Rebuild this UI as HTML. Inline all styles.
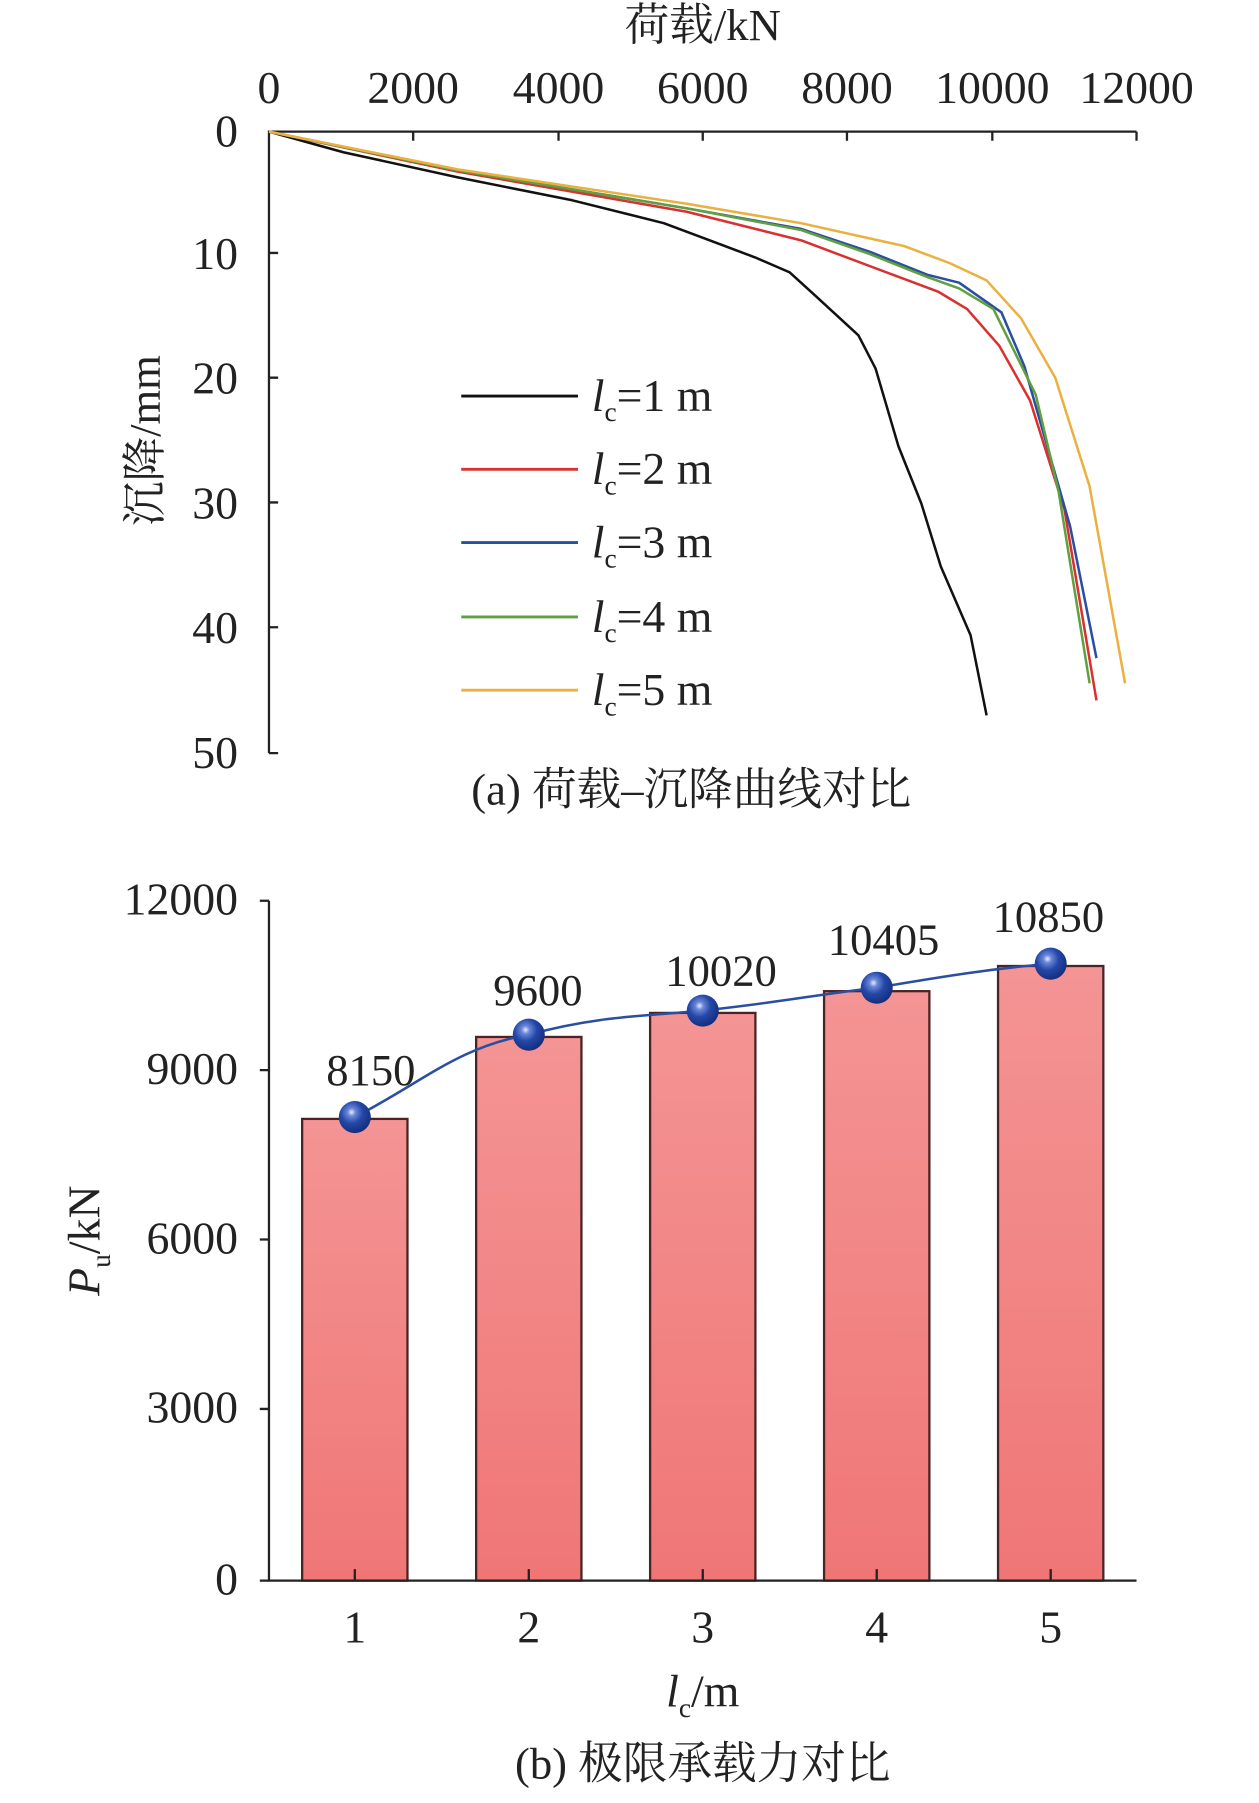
<!DOCTYPE html>
<html><head><meta charset="utf-8"><style>html,body{margin:0;padding:0;background:#fff}svg{display:block}</style></head><body>
<svg width="1259" height="1803" viewBox="0 0 1100 1575.3" xmlns="http://www.w3.org/2000/svg" font-family="'Liberation Serif','Noto Serif CJK SC',serif" fill="#222">
<defs>
<linearGradient id="bg" x1="0" y1="0" x2="0" y2="1"><stop offset="0" stop-color="#f49494"/><stop offset="1" stop-color="#f07676"/></linearGradient>
<radialGradient id="ball" cx="0.4" cy="0.35" r="0.7"><stop offset="0" stop-color="#e8ecff"/><stop offset="0.18" stop-color="#6a86d8"/><stop offset="0.5" stop-color="#2448a8"/><stop offset="1" stop-color="#132a78"/></radialGradient>
</defs>
<!-- Top chart -->
<text x="614" y="35" font-size="39" text-anchor="middle">荷载/kN</text>
<g font-size="40" text-anchor="middle">
<text x="235" y="90">0</text><text x="361" y="90">2000</text><text x="488" y="90">4000</text><text x="614" y="90">6000</text><text x="740" y="90">8000</text><text x="867" y="90">10000</text><text x="993" y="90">12000</text>
</g>
<g font-size="40" text-anchor="end">
<text x="208" y="128">0</text><text x="208" y="235">10</text><text x="208" y="344">20</text><text x="208" y="453">30</text><text x="208" y="562">40</text><text x="208" y="671">50</text>
</g>
<text transform="translate(140,385) rotate(-90)" font-size="39" text-anchor="middle">沉降/mm</text>
<g stroke="#222" stroke-width="2" fill="none">
<path d="M235,658 V115 H993"/>
<path d="M361,115v8M488,115v8M614,115v8M740,115v8M867,115v8M993,115v8M235,221h8M235,330h8M235,439h8M235,548h8M235,658h8"/>
</g>
<g fill="none" stroke-width="2.2" stroke-linejoin="round">
<polyline stroke="#111" points="235,115 300,133 400,155 500,175 580,195 620,210 660,225 690,238 712,258 750,293 765,322 785,390 805,440 822,495 848,555 862,625"/>
<polyline stroke="#d93030" points="235,115 400,150 600,185 700,210 780,240 820,255 845,270 873,302 900,350 930,445 958,612"/>
<polyline stroke="#2a4ea0" points="235,115 400,149 600,182 700,200 760,220 810,240 838,247 875,273 895,320 915,390 935,460 958,575"/>
<polyline stroke="#60a040" points="235,115 400,149 600,182 700,201 760,222 810,242 838,252 868,270 905,345 925,430 952,597"/>
<polyline stroke="#eab040" points="235,115 400,148 600,178 700,195 790,215 830,230 862,245 892,278 922,330 952,425 983,597"/>
</g>
<g stroke-width="2.5">
<line x1="403" y1="346" x2="505" y2="346" stroke="#111"/>
<line x1="403" y1="410" x2="505" y2="410" stroke="#d93030"/>
<line x1="403" y1="474" x2="505" y2="474" stroke="#2a4ea0"/>
<line x1="403" y1="539" x2="505" y2="539" stroke="#60a040"/>
<line x1="403" y1="603" x2="505" y2="603" stroke="#eab040"/>
</g>
<g font-size="40">
<text x="517" y="359"><tspan font-style="italic">l</tspan><tspan font-size="24" dy="9">c</tspan><tspan dy="-9">=1 m</tspan></text>
<text x="517" y="423"><tspan font-style="italic">l</tspan><tspan font-size="24" dy="9">c</tspan><tspan dy="-9">=2 m</tspan></text>
<text x="517" y="487"><tspan font-style="italic">l</tspan><tspan font-size="24" dy="9">c</tspan><tspan dy="-9">=3 m</tspan></text>
<text x="517" y="552"><tspan font-style="italic">l</tspan><tspan font-size="24" dy="9">c</tspan><tspan dy="-9">=4 m</tspan></text>
<text x="517" y="616"><tspan font-style="italic">l</tspan><tspan font-size="24" dy="9">c</tspan><tspan dy="-9">=5 m</tspan></text>
</g>
<text x="604" y="703" font-size="39" text-anchor="middle">(a) 荷载–沉降曲线对比</text>
<!-- Bottom chart -->
<g font-size="40" text-anchor="end">
<text x="208" y="799">12000</text><text x="208" y="947">9000</text><text x="208" y="1095">6000</text><text x="208" y="1243">3000</text><text x="208" y="1393">0</text>
</g>
<text transform="translate(87,1084) rotate(-90)" font-size="40" text-anchor="middle"><tspan font-style="italic">P</tspan><tspan font-size="24" dy="9">u</tspan><tspan dy="-9">/kN</tspan></text>
<g fill="url(#bg)" stroke="#4a2424" stroke-width="2">
<rect x="264" y="977.6" width="92" height="403.4"/>
<rect x="416" y="906" width="92" height="475"/>
<rect x="568" y="885" width="92" height="496"/>
<rect x="720" y="866" width="92" height="515"/>
<rect x="872" y="844" width="92" height="537"/>
</g>
<g stroke="#222" stroke-width="2" fill="none">
<path d="M235,787 V1381 H993"/>
<path d="M227,787h8M227,935h8M227,1083h8M227,1231h8M227,1381h8M310,1381v-10M462,1381v-10M614,1381v-10M766,1381v-10M918,1381v-10"/>
</g>
<path d="M310,976 C370,945 400,915 462,904 C520,888 560,888 614,883 C680,876 720,868 766,863 C830,852 870,846 918,842" fill="none" stroke="#2a4ea0" stroke-width="2.2"/>
<g fill="url(#ball)">
<circle cx="310" cy="976" r="14"/><circle cx="462" cy="904" r="14"/><circle cx="614" cy="883" r="14"/><circle cx="766" cy="863" r="14"/><circle cx="918" cy="842" r="14"/>
</g>
<g font-size="39" text-anchor="middle">
<text x="324" y="948">8150</text><text x="470" y="878">9600</text><text x="630" y="861">10020</text><text x="772" y="834">10405</text><text x="916" y="814">10850</text>
</g>
<g font-size="40" text-anchor="middle">
<text x="310" y="1435">1</text><text x="462" y="1435">2</text><text x="614" y="1435">3</text><text x="766" y="1435">4</text><text x="918" y="1435">5</text>
</g>
<text x="614" y="1491" font-size="40" text-anchor="middle"><tspan font-style="italic">l</tspan><tspan font-size="24" dy="9">c</tspan><tspan dy="-9">/m</tspan></text>
<text x="614" y="1554" font-size="39" text-anchor="middle">(b) 极限承载力对比</text>
</svg>
</body></html>
